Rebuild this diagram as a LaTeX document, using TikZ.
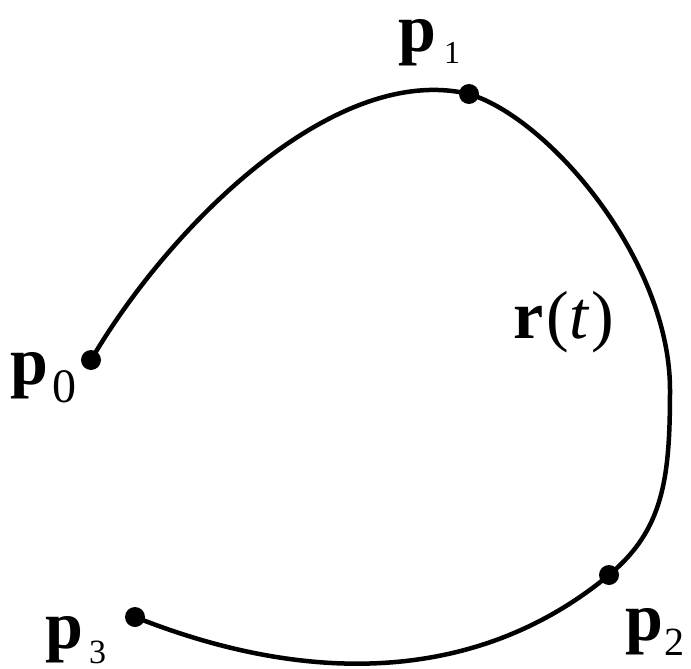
\documentclass[tikz,border=0pt]{standalone}
\usepackage{fontspec}
\setmainfont{Liberation Serif}
\usepackage{tikz}

% point label: bold p with a lowered index
\newcommand{\plab}[4]{\textbf{p}\hspace{#4}\raisebox{-#3}{\fontsize{#2}{#2}\selectfont #1}}

\begin{document}
\begin{tikzpicture}[
  x=1pt,
  y=-1pt,
  every node/.style={inner sep=0pt},
  dot/.style={circle,fill,minimum size=20pt},
  lbl/.style={anchor=base west,font=\fontsize{68}{70}\selectfont},
  curve/.style={line width=4.5pt}
]
\useasboundingbox (0,0) rectangle (691,669);

% Points on the curve
\node[dot] (p0) at (91,360) {};
\node[dot] (p1) at (469,94) {};
\node[dot] (p2) at (609,575) {};
\node[dot] (p3) at (135,617) {};
\coordinate (m) at (670,390);

% The curve
\draw[curve] (p0.center) .. controls (170,225) and (335,62) .. (p1.center)
  .. controls (549,118) and (670,260) .. (m)
  .. controls (670,480) and (663,530) .. (p2.center)
  .. controls (486,677) and (321,691) .. (p3.center);

% Labels
\node[lbl] (l0) at (10,384) {\plab{0}{48pt}{18pt}{4pt}};
\node[lbl] (l1) at (398,52) {\plab{1}{32pt}{12pt}{8pt}};
\node[lbl] (l2) at (625,640) {\plab{2}{40pt}{15pt}{1pt}};
\node[lbl] (l3) at (45,648) {\plab{3}{34pt}{15pt}{6pt}};
\node[lbl] (rt) at (513,338) {\textbf{r}\hspace{3pt}(\textit{t}\/\hspace{2pt})};
\end{tikzpicture}
\end{document}
